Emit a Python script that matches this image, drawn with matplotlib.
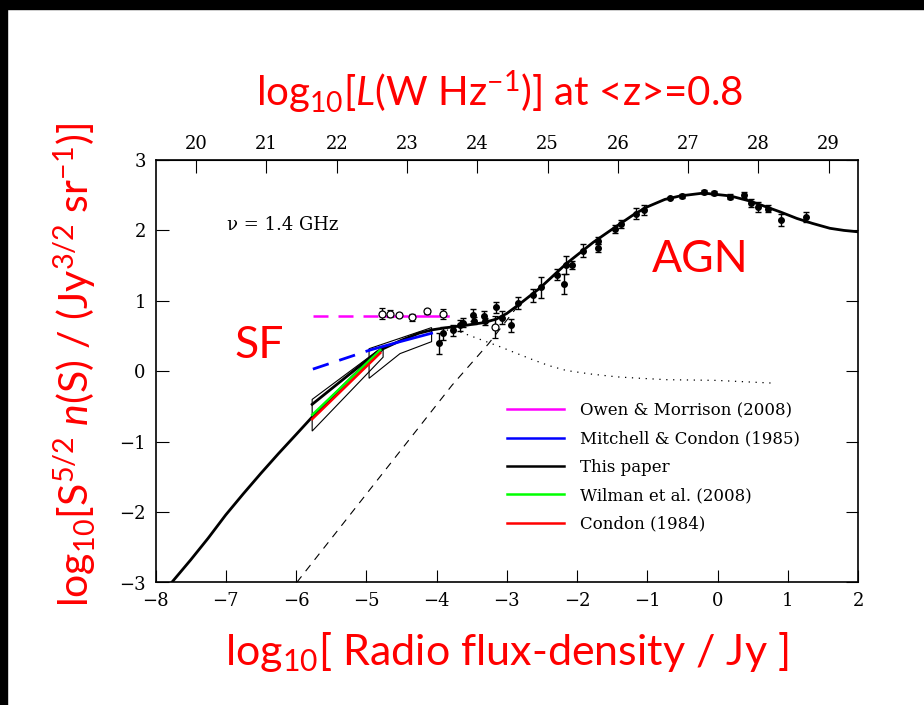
"""Radio source counts at 1.4 GHz: Euclidean-normalised n(S) with SF and AGN regimes."""

import matplotlib.pyplot as plt
from matplotlib.patches import Polygon, Rectangle

# model curve ("This paper"), total counts
model_x = [-7.77, -7.5, -7.25, -7.0, -6.75, -6.5, -6.25, -6.0, -5.77, -5.5, -5.2, -4.95,
           -4.76, -4.5, -4.25, -4.05, -3.85, -3.6, -3.33, -3.15, -3.0, -2.81, -2.53, -2.15,
           -1.77, -1.48, -1.2, -1.01, -0.75, -0.53, -0.2, 0.18, 0.45, 0.65, 0.9, 1.13,
           1.35, 1.6, 1.8, 2.0]
model_y = [-3.0, -2.68, -2.37, -2.04, -1.74, -1.45, -1.17, -0.9, -0.65, -0.38, -0.08, 0.16,
           0.32, 0.44, 0.54, 0.59, 0.62, 0.65, 0.69, 0.74, 0.82, 0.96, 1.18, 1.53,
           1.83, 2.03, 2.22, 2.33, 2.44, 2.49, 2.53, 2.49, 2.42, 2.35, 2.26, 2.17,
           2.10, 2.03, 2.0, 1.98]

# SF component extrapolated (dotted) and AGN component (dashed)
sf_x = [-3.95, -3.67, -3.40, -3.10, -2.85, -2.62, -2.4, -2.15, -1.8, -1.43, -1.1, -0.72,
        -0.35, -0.01, 0.4, 0.82]
sf_y = [0.6, 0.56, 0.46, 0.35, 0.25, 0.16, 0.08, 0.01, -0.04, -0.08, -0.10, -0.12,
        -0.125, -0.13, -0.15, -0.17]
agn_x = [-5.99, -3.78, -3.26, -2.84]
agn_y = [-3.0, -0.2, 0.39, 0.93]

# filled points with error bars
pts_x = [-3.96, -3.91, -3.77, -3.66, -3.62, -3.48, -3.47, -3.32, -3.31, -3.16, -3.07,
         -2.94, -2.84, -2.63, -2.51, -2.28, -2.18, -2.16, -2.07, -1.92, -1.70, -1.70,
         -1.46, -1.38, -1.16, -1.04, -0.67, -0.50, -0.19, -0.05, 0.18, 0.37, 0.47, 0.58,
         0.72, 0.91, 1.26]
pts_y = [0.40, 0.54, 0.58, 0.65, 0.69, 0.80, 0.72, 0.78, 0.71, 0.91, 0.76,
         0.65, 0.97, 1.08, 1.19, 1.37, 1.24, 1.51, 1.51, 1.71, 1.75, 1.85,
         2.02, 2.09, 2.24, 2.29, 2.46, 2.49, 2.54, 2.53, 2.48, 2.50, 2.39, 2.33,
         2.31, 2.15, 2.19]
pts_err = [0.15, 0.09, 0.08, 0.08, 0.06, 0.08, 0.05, 0.08, 0.05, 0.08, 0.09,
           0.09, 0.09, 0.09, 0.15, 0.08, 0.14, 0.13, 0.06, 0.09, 0.06, 0.05,
           0.06, 0.06, 0.08, 0.07, 0.02, 0.03, 0.03, 0.03, 0.04, 0.04, 0.06, 0.07,
           0.05, 0.09, 0.07]

# open points (Owen & Morrison) plus one isolated open point
open_x = [-4.77, -4.66, -4.53, -4.35, -4.13, -3.91, -3.17]
open_y = [0.82, 0.82, 0.80, 0.77, 0.85, 0.81, 0.63]
open_err = [0.08, 0.05, 0.03, 0.05, 0.03, 0.07, 0.16]

# literature SF fits
owen_dash_x, owen_dash_y = [-5.76, -4.8], [0.79, 0.79]
owen_x, owen_y = [-4.8, -3.83], [0.79, 0.79]
mitchell_dash_x, mitchell_dash_y = [-5.76, -4.95], [0.03, 0.30]
mitchell_x, mitchell_y = [-4.95, -4.52, -4.07], [0.30, 0.42, 0.54]
sf_fit_x, sf_fit_y = [-5.77, -4.85], [-0.47, 0.27]
wilman_x, wilman_y = [-5.77, -4.80], [-0.62, 0.30]
condon_x, condon_y = [-5.77, -4.80], [-0.68, 0.26]

# uncertainty boxes
box1 = [(-5.77, -0.40), (-4.76, 0.35), (-4.76, 0.20), (-5.77, -0.85)]
box2 = [(-4.96, 0.32), (-4.07, 0.62), (-4.07, 0.42), (-4.52, 0.25), (-4.96, -0.10)]

L_OFFSET = 27.42
top_ticks = list(range(20, 30))

RED = "#ff0000"
SERIF = "DejaVu Serif"


def main() -> None:
    plt.rcParams["mathtext.fontset"] = "custom"
    plt.rcParams["mathtext.rm"] = "Lato"
    plt.rcParams["mathtext.it"] = "Lato:italic"

    fig = plt.figure(figsize=(9.2401, 7.0501), dpi=100)
    ax = fig.add_axes([155.5 / 924, 122.5 / 705, 702.5 / 924, 422.5 / 705])

    # black frame remnants at top and left
    fig.patches.append(Rectangle((0, 1 - 9 / 705), 1, 9 / 705, transform=fig.transFigure,
                                 color="black", zorder=10))
    fig.patches.append(Rectangle((0, 0), 7 / 924, 1, transform=fig.transFigure,
                                 color="black", zorder=10))

    for box in (box1, box2):
        ax.add_patch(Polygon(box, closed=True, fill=False, ec="black", lw=0.8, zorder=2))

    ax.plot(agn_x, agn_y, color="black", lw=0.8, ls=(0, (7, 6)), zorder=2)
    ax.plot(sf_x, sf_y, color="black", lw=0.9, ls=(0, (1, 4.5)), zorder=2)

    ax.plot(model_x, model_y, color="black", lw=2.0, zorder=3)
    ax.plot(owen_dash_x, owen_dash_y, color="#ff00ff", lw=1.8, ls=(0, (6, 4)), zorder=3)
    h_owen, = ax.plot(owen_x, owen_y, color="#ff00ff", lw=1.8, zorder=3)
    ax.plot(mitchell_dash_x, mitchell_dash_y, color="#0000ff", lw=2.0, ls=(0, (6, 4)), zorder=3)
    h_mitch, = ax.plot(mitchell_x, mitchell_y, color="#0000ff", lw=2.0, zorder=3)
    h_this, = ax.plot(sf_fit_x, sf_fit_y, color="black", lw=2.0, zorder=3)
    h_wil, = ax.plot(wilman_x, wilman_y, color="#00ff00", lw=1.8, zorder=4)
    h_con, = ax.plot(condon_x, condon_y, color=RED, lw=1.8, zorder=4)

    ax.errorbar(pts_x, pts_y, yerr=pts_err, fmt="o", ms=4, color="black", ecolor="black",
                elinewidth=1.0, capsize=2.5, capthick=1.0, zorder=5)
    ax.errorbar(open_x, open_y, yerr=open_err, fmt="o", ms=5, mfc="white", mec="black",
                mew=0.9, ecolor="black", elinewidth=1.0, capsize=2.5, capthick=1.0, zorder=5)

    ax.set_xlim(-8, 2)
    ax.set_ylim(-3, 3)
    ax.set_xticks(range(-8, 3))
    ax.set_yticks(range(-3, 4))
    ax.tick_params(direction="in", length=9, width=0.8, top=False, right=True,
                   labelsize=13, pad=7)
    for lab in ax.get_xticklabels() + ax.get_yticklabels():
        lab.set_family(SERIF)
    for sp in ax.spines.values():
        sp.set_linewidth(1.2)

    top = ax.secondary_xaxis("top", functions=(lambda s: s + L_OFFSET,
                                               lambda l: l - L_OFFSET))
    top.set_xticks(top_ticks)
    top.tick_params(direction="in", length=9, width=0.8, labelsize=13, pad=5)
    for lab in top.get_xticklabels():
        lab.set_family(SERIF)

    ax.text(-6.98, 2.08, "ν = 1.4 GHz", family=SERIF, fontsize=13, va="center", ha="left")

    leg = ax.legend([h_owen, h_mitch, h_this, h_wil, h_con],
                    ["Owen & Morrison (2008)", "Mitchell & Condon (1985)", "This paper",
                     "Wilman et al. (2008)", "Condon (1984)"],
                    loc="upper left", bbox_to_anchor=(0.5004, 0.427), frameon=False,
                    borderpad=0, borderaxespad=0, handlelength=3.4, handletextpad=1.0,
                    labelspacing=0.68, prop={"family": SERIF, "size": 12})
    for line in leg.get_lines():
        line.set_linewidth(1.8)

    ax.text(-6.53, 0.36, "SF", color=RED, family="Lato", fontsize=32, ha="center", va="center")
    ax.text(-0.25, 1.58, "AGN", color=RED, family="Lato", fontsize=32, ha="center", va="center")

    fig.text(500 / 924, 1 - 92 / 705, r"log$_{10}$[$L$(W Hz$^{-1}$)] at <z>=0.8",
             color=RED, family="Lato", fontsize=29, ha="center", va="center")
    fig.text(507 / 924, 1 - 652 / 705, r"log$_{10}$[ Radio flux-density / Jy ]",
             color=RED, family="Lato", fontsize=31, ha="center", va="center")
    fig.text(75 / 924, 1 - 365 / 705,
             r"log$_{10}$[S$^{5/2}$ $n$(S) / (Jy$^{3/2}$ sr$^{-1}$)]",
             color=RED, family="Lato", fontsize=29.5, ha="center", va="center", rotation=90)

    fig.savefig("out.png", dpi=100)
    plt.close(fig)


if __name__ == "__main__":
    main()
